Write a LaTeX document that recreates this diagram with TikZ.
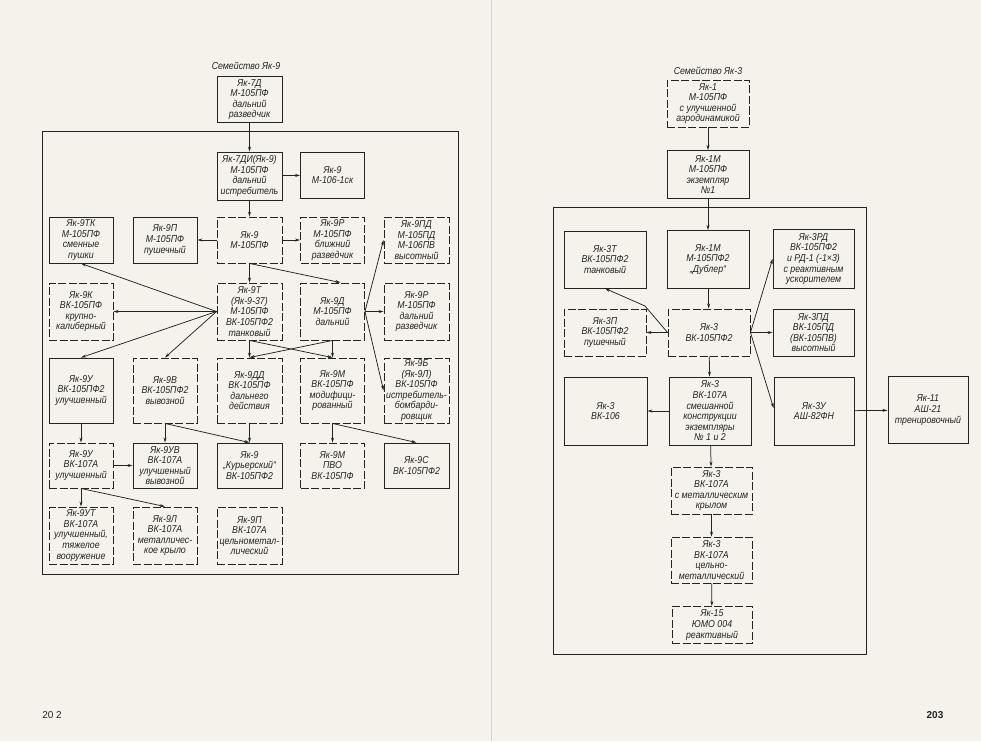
\documentclass[tikz,border=0pt]{standalone}
\usepackage{fontspec}
\setmainfont{Liberation Sans}
\newfontfamily\draftfont[FakeStretch=0.88]{Liberation Sans}
\usetikzlibrary{arrows.meta}
\definecolor{ink}{RGB}{35,35,35}
\definecolor{paper}{RGB}{244,242,234}
\begin{document}
\begin{tikzpicture}[x=1pt,y=-1pt,
  every node/.style={font=\draftfont\fontsize{10}{10.6}\selectfont\itshape, text=ink},
  bx/.style={draw=ink, line width=0.9pt, align=center, inner sep=1pt},
  dbx/.style={bx, dash pattern=on 8pt off 2.5pt},
  sz/.style 2 args={minimum width=#1pt, minimum height=#2pt},
  arr/.style={draw=ink, line width=0.75pt, -{Stealth[length=5pt,width=3pt]}},
  frm/.style={draw=ink, line width=0.9pt}
]
\useasboundingbox (0,0) rectangle (981,741);
\fill[paper] (0,0) rectangle (981,741);
\draw[gray!35, line width=1pt] (491,0) -- (491,741);

% ---------------- left page: Yak-9 family ----------------
\node (t9) at (246,66) {Семейство Як-9};
\draw[frm] (42,131) rectangle (458,574);

\node[bx, sz={65}{46}] (a7d) at (249.5,99.5) {Як-7Д\\М-105ПФ\\дальний\\разведчик};
\node[bx, sz={65}{48}] (a7di) at (249.5,176) {Як-7ДИ(Як-9)\\М-105ПФ\\дальний\\истребитель};
\node[bx, sz={64}{46}] (a106) at (332.5,175) {Як-9\\М-106-1ск};

\node[bx, sz={64}{46}] (atk) at (81,240) {Як-9ТК\\М-105ПФ\\сменные\\пушки};
\node[bx, sz={64}{46}] (a9p) at (165,240) {Як-9П\\М-105ПФ\\пушечный};
\node[dbx, sz={65}{46}] (a9) at (249.5,240) {Як-9\\М-105ПФ};
\node[dbx, sz={64}{46}] (a9r) at (332.5,240) {Як-9Р\\М-105ПФ\\ближний\\разведчик};
\node[dbx, sz={65}{46}] (a9pd) at (416.5,240) {Як-9ПД\\М-105ПД\\М-106ПВ\\высотный};

\node[dbx, sz={64}{57}] (a9k) at (81,311.5) {Як-9К\\ВК-105ПФ\\крупно-\\калиберный};
\node[dbx, sz={65}{57}] (a9t) at (249.5,311.5) {Як-9Т\\(Як-9-37)\\М-105ПФ\\ВК-105ПФ2\\танковый};
\node[dbx, sz={64}{57}] (a9d) at (332.5,311.5) {Як-9Д\\М-105ПФ\\дальний};
\node[dbx, sz={65}{57}] (a9r2) at (416.5,311.5) {Як-9Р\\М-105ПФ\\дальний\\разведчик};

\node[bx, sz={64}{65}] (a9u) at (81,390.5) {Як-9У\\ВК-105ПФ2\\улучшенный};
\node[dbx, sz={64}{65}] (a9v) at (165,390.5) {Як-9В\\ВК-105ПФ2\\вывозной};
\node[dbx, sz={65}{65}] (a9dd) at (249.5,390.5) {Як-9ДД\\ВК-105ПФ\\дальнего\\действия};
\node[dbx, sz={64}{65}] (a9m) at (332.5,390.5) {Як-9М\\ВК-105ПФ\\модифици-\\рованный};
\node[dbx, sz={65}{65}] (a9b) at (416.5,390.5) {Як-9Б\\(Як-9Л)\\ВК-105ПФ\\истребитель-\\бомбарди-\\ровщик};

\node[dbx, sz={64}{45}] (a9u7) at (81,465.5) {Як-9У\\ВК-107А\\улучшенный};
\node[bx, sz={64}{45}] (a9uv) at (165,465.5) {Як-9УВ\\ВК-107А\\улучшенный\\вывозной};
\node[bx, sz={65}{45}] (akur) at (249.5,465.5) {Як-9\\„Курьерский“\\ВК-105ПФ2};
\node[dbx, sz={64}{45}] (apvo) at (332.5,465.5) {Як-9М\\ПВО\\ВК-105ПФ};
\node[bx, sz={65}{45}] (a9s) at (416.5,465.5) {Як-9С\\ВК-105ПФ2};

\node[dbx, sz={64}{57}] (a9ut) at (81,535.5) {Як-9УТ\\ВК-107А\\улучшенный,\\тяжелое\\вооружение};
\node[dbx, sz={64}{57}] (a9l) at (165,535.5) {Як-9Л\\ВК-107А\\металличес-\\кое крыло};
\node[dbx, sz={65}{57}] (a9pm) at (249.5,535.5) {Як-9П\\ВК-107А\\цельнометал-\\лический};

\draw[arr] (a7d) -- (a7di);
\draw[arr] (a7di) -- (a106);
\draw[arr] (a7di) -- (a9);
\draw[arr] (a9) -- (a9p);
\draw[arr] (a9) -- (a9r);
\draw[arr] (a9) -- (a9t);
\draw[arr] (a9.south) -- ([xshift=8pt]a9d.north);
\draw[arr] (a9t.west) -- (atk.south);
\draw[arr] (a9t.west) -- (a9k.east);
\draw[arr] (a9t.west) -- (a9u.north);
\draw[arr] (a9t.west) -- (a9v.north);
\draw[arr] (a9t.south) -- (a9dd.north);
\draw[arr] (a9t.south) -- (a9m.north);
\draw[arr] (a9d.south) -- (a9m.north);
\draw[arr] (a9d.south) -- (a9dd.north);
\draw[arr] (a9d.east) -- (a9pd.west);
\draw[arr] (a9d.east) -- (a9r2.west);
\draw[arr] (a9d.east) -- (a9b.west);
\draw[arr] (a9u) -- (a9u7);
\draw[arr] (a9v) -- (a9uv);
\draw[arr] (a9v.south) -- (akur.north);
\draw[arr] (a9dd) -- (akur);
\draw[arr] (a9m) -- (apvo);
\draw[arr] (a9m.south) -- (a9s.north);
\draw[arr] (a9u7) -- (a9uv);
\draw[arr] (a9u7) -- (a9ut);
\draw[arr] (a9u7.south) -- (a9l.north);

% ---------------- right page: Yak-3 family ----------------
\node (t3) at (708,71) {Семейство Як-3};
\draw[frm] (553,207) rectangle (866,654);

\node[dbx, sz={82}{47}] (b1) at (708,103.5) {Як-1\\М-105ПФ\\с улучшенной\\аэродинамикой};
\node[bx, sz={82}{48}] (b1m) at (708,174.5) {Як-1М\\М-105ПФ\\экземпляр\\№1};

\node[bx, sz={82}{57}] (b3t) at (605,259.5) {Як-3Т\\ВК-105ПФ2\\танковый};
\node[bx, sz={82}{58}] (bdub) at (708,259.5) {Як-1М\\М-105ПФ2\\„Дублер“};
\node[bx, sz={81}{59}] (brd) at (813.5,259) {Як-3РД\\ВК-105ПФ2\\и РД-1 (-1×3)\\с реактивным\\ускорителем};

\node[dbx, sz={82}{47}] (b3p) at (605,332.5) {Як-3П\\ВК-105ПФ2\\пушечный};
\node[dbx, sz={82}{47}] (b3) at (709,332.5) {Як-3\\ВК-105ПФ2};
\node[bx, sz={81}{47}] (b3pd) at (813.5,332.5) {Як-3ПД\\ВК-105ПД\\(ВК-105ПВ)\\высотный};

\node[bx, sz={83}{68}] (b106) at (605.5,411) {Як-3\\ВК-106};
\node[bx, sz={82}{68}] (b107) at (710,411) {Як-3\\ВК-107А\\смешанной\\конструкции\\экземпляры\\№ 1 и 2};
\node[bx, sz={80}{68}] (b3u) at (814,411) {Як-3У\\АШ-82ФН};
\node[bx, sz={80}{67}] (b11) at (928,410) {Як-11\\АШ-21\\тренировочный};

\node[dbx, sz={81}{47}] (bmet) at (711.5,490.5) {Як-3\\ВК-107А\\с металлическим\\крылом};
\node[dbx, sz={81}{46}] (bcm) at (711.5,560) {Як-3\\ВК-107А\\цельно-\\металлический};
\node[dbx, sz={80}{37}] (b15) at (712,625) {Як-15\\ЮМО 004\\реактивный};

\coordinate (bend) at (645,306);
\draw[arr] (b1) -- (b1m);
\draw[arr] (b1m) -- (bdub);
\draw[arr] (bdub) -- (b3);
\draw[arr] (b3.west) -- (bend) -- (b3t.south);
\draw[arr] (b3) -- (b3p);
\draw[arr] (b3.east) -- (brd.west);
\draw[arr] (b3) -- (b3pd);
\draw[arr] (b3.east) -- ([yshift=3pt]b3u.west);
\draw[arr] (b3) -- (b107);
\draw[arr] (b107) -- (b106);
\draw[arr] (b3u) -- (b11);
\draw[arr] (b107) -- (bmet);
\draw[arr] (bmet) -- (bcm);
\draw[arr] (bcm) -- (b15);

% page numbers
\node[font=\fontsize{10}{12}\selectfont] (p202) at (52,715) {20 2};
\node[font=\fontsize{10}{12}\selectfont\bfseries] (p203) at (935,715) {203};
\end{tikzpicture}
\end{document}
